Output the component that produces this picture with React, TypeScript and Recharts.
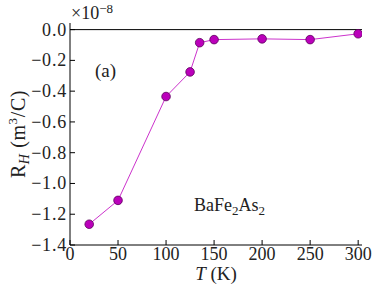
import React from "react";
import { LineChart, Line, XAxis, YAxis, ReferenceLine, ReferenceDot, Label } from "recharts";

const temperatures = [20, 50, 100, 125, 135, 150, 200, 250, 300];
const hallCoeff = [-1.265, -1.11, -0.435, -0.275, -0.085, -0.065, -0.06, -0.065, -0.027];
const xTicks = [0, 50, 100, 150, 200, 250, 300];
const yTicks = [-1.4, -1.2, -1.0, -0.8, -0.6, -0.4, -0.2, 0.0];

const data = temperatures.map((t, i) => ({ t, rh: hallCoeff[i] }));

const FONT = "'Liberation Serif', 'DejaVu Serif', serif";
const TL = 5;

const fmtY = (v: number) => (Math.abs(v) < 1e-9 ? "0.0" : "\u2212" + Math.abs(v).toFixed(1));

const LeftTick = (props: any) => {
  const { x, y, payload } = props;
  return (
    <g>
      <line x1={x + 3} x2={x + 3 + TL} y1={y} y2={y} stroke="#000" strokeWidth={1} />
      <text x={x} y={y} dy={6} textAnchor="end" fontFamily={FONT} fontSize={18} letterSpacing={0.8} fill="#222">
        {fmtY(payload.value)}
      </text>
    </g>
  );
};

const RightTick = (props: any) => {
  const { x, y } = props;
  return <line x1={x} x2={x - TL} y1={y} y2={y} stroke="#000" strokeWidth={1} />;
};

const BottomTick = (props: any) => {
  const { x, y, payload } = props;
  return (
    <g>
      <line x1={x} x2={x} y1={y - 2} y2={y - 2 - TL} stroke="#000" strokeWidth={1} />
      <text x={x} y={y} dy={13} textAnchor="middle" fontFamily={FONT} fontSize={18} fill="#222">
        {payload.value}
      </text>
    </g>
  );
};

const TopTick = (props: any) => {
  const { x, y } = props;
  return <line x1={x} x2={x} y1={y} y2={y + TL} stroke="#000" strokeWidth={1} />;
};

const YLabel = (props: any) => {
  const vb = props.viewBox;
  const cx = 25;
  const cy = vb.y + vb.height / 2;
  return (
    <text
      x={cx}
      y={cy}
      transform={`rotate(-90, ${cx}, ${cy})`}
      textAnchor="middle"
      fontFamily={FONT}
      fontSize={20}
      letterSpacing={0.6}
      fill="#222"
    >
      R
      <tspan fontStyle="italic" fontSize={14} dy={4}>H</tspan>
      <tspan dy={-4}> (m</tspan>
      <tspan fontSize={13} dy={-8}>3</tspan>
      <tspan dy={8}>/C)</tspan>
    </text>
  );
};

const ExpLabel = (props: any) => {
  const vb = props.viewBox;
  return (
    <text x={vb.x + vb.width + 1} y={19} textAnchor="start" fontFamily={FONT} fontSize={18} fill="#222">
      ×10<tspan fontSize={13} dy={-6}>{"\u22128"}</tspan>
    </text>
  );
};

const XLabel = (props: any) => {
  const vb = props.viewBox;
  return (
    <text x={vb.x + vb.width / 2} y={280} textAnchor="middle" fontFamily={FONT} fontSize={19} fill="#222">
      <tspan fontStyle="italic">T</tspan> (K)
    </text>
  );
};

export default function App() {
  return (
    <div style={{ position: "absolute", left: 0, top: 0, background: "#fff" }}>
      <LineChart width={382} height={288} data={data} margin={{ top: 23, right: 20, bottom: 13, left: 8 }}>
        <XAxis
          xAxisId="b"
          dataKey="t"
          type="number"
          domain={[0, 304]}
          ticks={xTicks}
          allowDataOverflow
          height={30}
          tickSize={0}
          tickMargin={2}
          tickLine={false}
          tick={<BottomTick />}
          axisLine={{ stroke: "#000", strokeWidth: 1 }}
          label={<XLabel />}
        />
        <XAxis
          xAxisId="t"
          orientation="top"
          dataKey="t"
          type="number"
          domain={[0, 304]}
          ticks={xTicks}
          allowDataOverflow
          height={0}
          tickSize={0}
          tickMargin={0}
          tickLine={false}
          tick={<TopTick />}
          axisLine={{ stroke: "#000", strokeWidth: 1 }}
        />
        <YAxis
          yAxisId="l"
          type="number"
          domain={[-1.4, 0.043]}
          ticks={yTicks}
          allowDataOverflow
          width={62}
          tickSize={0}
          tickMargin={3}
          tickLine={false}
          tick={<LeftTick />}
          axisLine={{ stroke: "#000", strokeWidth: 1 }}
        >
          <Label content={<YLabel />} />
          <Label content={<ExpLabel />} />
        </YAxis>
        <YAxis
          yAxisId="r"
          orientation="right"
          type="number"
          domain={[-1.4, 0.043]}
          ticks={yTicks}
          allowDataOverflow
          width={0}
          tickSize={0}
          tickMargin={0}
          tickLine={false}
          tick={<RightTick />}
          axisLine={{ stroke: "#000", strokeWidth: 1 }}
        />
        <ReferenceLine xAxisId="b" yAxisId="l" y={0} stroke="#000" strokeWidth={1} />
        <Line
          xAxisId="b"
          yAxisId="l"
          dataKey="rh"
          stroke="#cc33cc"
          strokeWidth={1}
          isAnimationActive={false}
          dot={{ r: 4.3, fill: "#bb00bb", stroke: "#5a005a", strokeWidth: 0.8 }}
        />
        <ReferenceDot
          xAxisId="b"
          yAxisId="l"
          x={37}
          y={-0.31}
          r={0}
          ifOverflow="visible"
          shape={(p: any) => (
            <text x={p.cx} y={p.cy} textAnchor="middle" fontFamily={FONT} fontSize={19} fill="#222">
              (a)
            </text>
          )}
        />
        <ReferenceDot
          xAxisId="b"
          yAxisId="l"
          x={166}
          y={-1.179}
          r={0}
          ifOverflow="visible"
          shape={(p: any) => (
            <text x={p.cx} y={p.cy} textAnchor="middle" fontFamily={FONT} fontSize={18} fill="#222">
              BaFe<tspan fontSize={13} dy={4}>2</tspan>
              <tspan dy={-4}>As</tspan>
              <tspan fontSize={13} dy={4}>2</tspan>
            </text>
          )}
        />
      </LineChart>
    </div>
  );
}
